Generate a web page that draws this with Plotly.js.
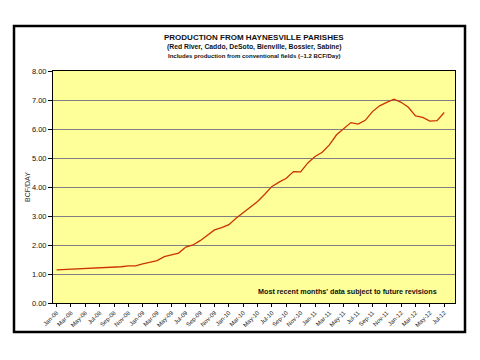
<!DOCTYPE html>
<html><head><meta charset="utf-8">
<script src="https://cdn.plot.ly/plotly-3.0.1.min.js"></script>
<style>html,body{margin:0;padding:0;background:#fff;}#chart{width:480px;height:360px;}</style>
</head><body><div id="chart"></div>
<script>
const months = ["Jan-08","Feb-08","Mar-08","Apr-08","May-08","Jun-08","Jul-08","Aug-08","Sep-08","Oct-08","Nov-08","Dec-08",
"Jan-09","Feb-09","Mar-09","Apr-09","May-09","Jun-09","Jul-09","Aug-09","Sep-09","Oct-09","Nov-09","Dec-09",
"Jan-10","Feb-10","Mar-10","Apr-10","May-10","Jun-10","Jul-10","Aug-10","Sep-10","Oct-10","Nov-10","Dec-10",
"Jan-11","Feb-11","Mar-11","Apr-11","May-11","Jun-11","Jul-11","Aug-11","Sep-11","Oct-11","Nov-11","Dec-11",
"Jan-12","Feb-12","Mar-12","Apr-12","May-12","Jun-12","Jul-12"];
const production = [1.14,1.15,1.16,1.18,1.20,1.20,1.20,1.21,1.23,1.25,1.28,1.28,
1.35,1.40,1.46,1.60,1.65,1.72,1.93,2.00,2.15,2.33,2.52,2.60,
2.70,2.92,3.12,3.33,3.50,3.75,4.02,4.17,4.30,4.53,4.52,4.83,
5.05,5.20,5.45,5.80,6.00,6.22,6.17,6.30,6.60,6.80,6.92,7.03,
6.92,6.75,6.45,6.40,6.27,6.29,6.57];
const yTicks = [0,1,2,3,4,5,6,7,8];

const F = "Arial, 'Liberation Sans', sans-serif";
const trace = {x: months, y: production, type: "scatter", mode: "lines",
  line: {color: "#CC3300", width: 1.3}, hoverinfo: "skip"};

const layout = {
  width: 480, height: 360,
  margin: {l: 53, r: 25, t: 71, b: 57},
  paper_bgcolor: "#ffffff", plot_bgcolor: "#FFFF99",
  showlegend: false,
  xaxis: {type: "category", range: [-0.5, 55.5], tickmode: "array",
    tickvals: months.filter((m, i) => i % 2 === 0),
    tickangle: -45, tickfont: {family: F, size: 6, color: "#222"},
    ticks: "outside", ticklen: 3, tickcolor: "#000",
    showline: true, linecolor: "#000", linewidth: 1, mirror: true,
    showgrid: false, zeroline: false, fixedrange: true},
  yaxis: {range: [0, 8], tickvals: yTicks, tickformat: ".2f",
    tickfont: {family: F, size: 7.5, color: "#111"},
    ticks: "outside", ticklen: 4, tickcolor: "#000",
    showline: true, linecolor: "#000", linewidth: 1, mirror: true,
    showgrid: true, gridcolor: "#808080", gridwidth: 1, zeroline: false,
    title: {text: "BCF/DAY", font: {family: F, size: 7, color: "#333"}, standoff: 0},
    fixedrange: true},
  annotations: [
    {text: "<b>PRODUCTION FROM HAYNESVILLE PARISHES</b>", xref: "paper", yref: "paper",
     x: 0.5, y: (303 - 37) / 232, xanchor: "center", yanchor: "middle", showarrow: false,
     font: {family: F, size: 8, color: "#111"}},
    {text: "<b>(Red River, Caddo, DeSoto, Bienville, Bossier, Sabine)</b>", xref: "paper", yref: "paper",
     x: 0.5, y: (303 - 47) / 232, xanchor: "center", yanchor: "middle", showarrow: false,
     font: {family: F, size: 6.8, color: "#111"}},
    {text: "<b>Includes production from conventional fields (~1.2 BCF/Day)</b>", xref: "paper", yref: "paper",
     x: 0.5, y: (303 - 56) / 232, xanchor: "center", yanchor: "middle", showarrow: false,
     font: {family: F, size: 6, color: "#111"}},
    {text: "<b>Most recent months' data subject to future revisions</b>", xref: "paper", yref: "paper",
     x: (347 - 53) / 402, y: (303 - 291) / 232, xanchor: "center", yanchor: "middle", showarrow: false,
     font: {family: F, size: 7.2, color: "#111"}}
  ],
  shapes: [
    {type: "rect", xref: "paper", yref: "paper",
     x0: (14 - 53) / 402, x1: (465 - 53) / 402, y0: (303 - 332) / 232, y1: (303 - 26) / 232,
     line: {color: "#000", width: 2.5}, fillcolor: "rgba(0,0,0,0)", layer: "below"}
  ]
};
Plotly.newPlot("chart", [trace], layout, {staticPlot: true, displayModeBar: false});
</script></body></html>
